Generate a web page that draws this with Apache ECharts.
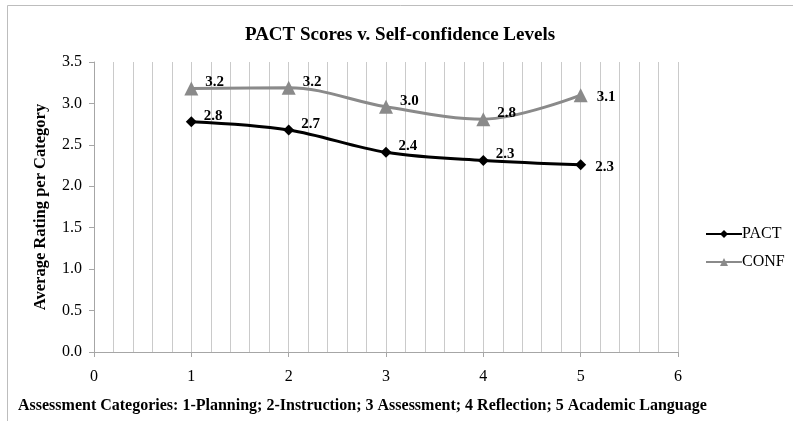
<!DOCTYPE html>
<html lang="en">
<head>
  <meta charset="UTF-8">
  <title>PACT Scores v. Self-confidence Levels</title>
  <script src="https://cdn.jsdelivr.net/npm/echarts@6/dist/echarts.min.js"></script>
  <style>
    * { padding: 0; margin: 0; }
    #main { width: 793px; height: 421px; background: #fff; }
  </style>
</head>
<body>
<div id="main"></div>
<script>
  // category numbers on the x axis
  var categories = [1, 2, 3, 4, 5];
  var pactScores = [2.78, 2.68, 2.41, 2.31, 2.26];
  var confScores = [3.18, 3.19, 2.96, 2.81, 3.10];

  var fontFamily = '"Liberation Serif", "Times New Roman", serif';
  var axisGray = '#a6a6a6';

  // label sits up-right of the point, the last one straight to the right
  function toPoints(values) {
    return values.map(function (v, i) {
      var item = {value: [categories[i], v]};
      if (i === values.length - 1) {
        item.label = {offset: [4, 2]};
      }
      return item;
    });
  }

  var myChart = echarts.init(document.getElementById('main'));
  myChart.setOption({
    backgroundColor: '#fff',
    animation: false,
    title: {
      text: 'PACT Scores v. Self-confidence Levels',
      left: 395,
      top: 21,
      textAlign: 'center',
      textStyle: {fontFamily: fontFamily, fontSize: 19, fontWeight: 'bold', color: '#000'}
    },
    legend: {
      orient: 'vertical',
      left: 700,
      top: 221,
      itemWidth: 36,
      itemHeight: 10,
      itemGap: 12,
      textStyle: {fontFamily: fontFamily, fontSize: 16, color: '#000', padding: [0, 0, 0, -5]},
      data: ['PACT', 'CONF']
    },
    grid: {left: 94, right: 115, top: 62, bottom: 69},
    xAxis: {
      type: 'value',
      min: 0,
      max: 6,
      interval: 1,
      axisLine: {lineStyle: {color: axisGray}},
      axisTick: {show: true, length: 5, lineStyle: {color: axisGray}},
      axisLabel: {fontFamily: fontFamily, fontSize: 16, color: '#000', margin: 17},
      splitLine: {show: true, lineStyle: {color: '#cacaca'}},
      minorTick: {show: false, splitNumber: 5},
      minorSplitLine: {show: true, lineStyle: {color: '#cacaca'}}
    },
    yAxis: {
      type: 'value',
      min: 0,
      max: 3.5,
      interval: 0.5,
      name: 'Average Rating per Category',
      nameLocation: 'middle',
      nameGap: 45,
      nameTextStyle: {fontFamily: fontFamily, fontSize: 16.5, fontWeight: 'bold', color: '#000'},
      axisLine: {show: true, lineStyle: {color: axisGray}},
      axisTick: {show: true, length: 5, lineStyle: {color: axisGray}},
      axisLabel: {
        fontFamily: fontFamily, fontSize: 16, color: '#000', margin: 12,
        formatter: function (v) { return v.toFixed(1); }
      },
      splitLine: {show: false}
    },
    series: [
      {
        name: 'PACT',
        type: 'line',
        smooth: 0.35,
        data: toPoints(pactScores),
        symbol: 'diamond',
        symbolSize: 11,
        itemStyle: {color: '#000'},
        lineStyle: {color: '#000', width: 3},
        label: {
          show: true,
          position: 'right',
          offset: [2, -6],
          fontFamily: fontFamily, fontSize: 15, fontWeight: 'bold', color: '#000',
          formatter: function (p) { return p.value[1].toFixed(1); }
        }
      },
      {
        name: 'CONF',
        type: 'line',
        smooth: 0.35,
        data: toPoints(confScores),
        symbol: 'triangle',
        symbolSize: 14,
        itemStyle: {color: '#8a8a8a'},
        lineStyle: {color: '#8a8a8a', width: 3},
        label: {
          show: true,
          position: 'right',
          offset: [2, -6],
          fontFamily: fontFamily, fontSize: 15, fontWeight: 'bold', color: '#000',
          formatter: function (p) { return p.value[1].toFixed(1); }
        }
      }
    ],
    graphic: [
      {
        type: 'text',
        left: 18,
        top: 398,
        style: {
          text: 'Assessment Categories: 1-Planning; 2-Instruction; 3 Assessment; 4 Reflection; 5 Academic Language',
          font: 'bold 16px "Liberation Serif", "Times New Roman", serif',
          fill: '#000'
        }
      },
      {
        type: 'rect',
        shape: {x: 7.5, y: 5.5, width: 800, height: 430},
        style: {fill: 'none', stroke: '#bdbdbd', lineWidth: 1},
        silent: true
      }
    ]
  });
</script>
</body>
</html>
